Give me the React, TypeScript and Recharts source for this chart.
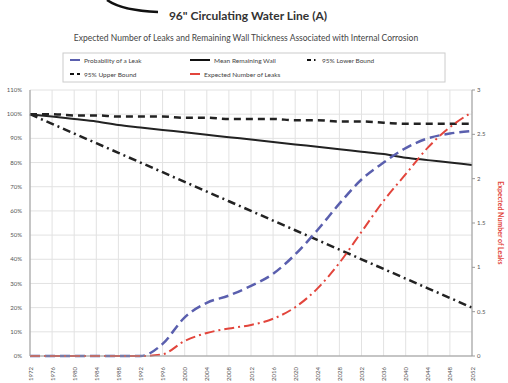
import { ComposedChart, Line, XAxis, YAxis, CartesianGrid } from 'recharts';

// years along the x axis (one label every 4 years)
const years = [1972, 1976, 1980, 1984, 1988, 1992, 1996, 2000, 2004, 2008, 2012, 2016, 2020, 2024, 2028, 2032, 2036, 2040, 2044, 2048, 2052];

// left axis, percent
const probLeak = [0, 0, 0, 0, 0, 0, 5, 16, 22, 25, 29, 34, 42, 52, 63, 73, 80, 86, 90, 92, 93];
const meanWall = [100, 99, 98, 97, 95.5, 94.5, 93.5, 92.5, 91.5, 90.5, 89.5, 88.5, 87.5, 86.5, 85.5, 84.5, 83.5, 82, 81, 80, 79];
const lowerBound = [100, 96, 92, 88, 84, 80, 76, 72, 68, 64, 60, 56, 52, 48, 44, 40, 36, 32, 28, 24, 20];
const upperBound = [100, 100, 99.5, 99.5, 99, 99, 99, 98.5, 98.5, 98, 98, 98, 97.5, 97.5, 97, 97, 96.5, 96, 96, 96, 96];

// right axis, count
const expectedLeaks = [0, 0, 0, 0, 0, 0, 0.02, 0.17, 0.26, 0.31, 0.35, 0.42, 0.55, 0.76, 1.05, 1.4, 1.75, 2.05, 2.35, 2.58, 2.75];

const leftTicks = [0, 10, 20, 30, 40, 50, 60, 70, 80, 90, 100, 110];
const rightTicks = [0, 0.5, 1, 1.5, 2, 2.5, 3];

const data = years.map((year, i) => ({
  year,
  probLeak: probLeak[i],
  meanWall: meanWall[i],
  lowerBound: lowerBound[i],
  upperBound: upperBound[i],
  expectedLeaks: expectedLeaks[i],
}));

const BLUE = '#5a5fae';
const RED = '#e2453c';
const FONT = 'Lato, "Open Sans", sans-serif';

const YearTick = (props: any) => {
  const { x, y, payload } = props;
  return (
    <text x={x} y={y + 3} transform={`rotate(-90 ${x} ${y + 3})`} textAnchor="end" dominantBaseline="central" fontSize={6} fill="#555" fontFamily={FONT}>
      {payload.value}
    </text>
  );
};

const LegendItem = ({ x, y, color, dash, width, label }: { x: number, y: number, color: string, dash?: string, width: number, label: string }) => (
  <g>
    <line x1={x} y1={y} x2={x + width} y2={y} stroke={color} strokeWidth={2} strokeDasharray={dash} />
    <text x={x + width + 4} y={y} dominantBaseline="central" fontSize={6.5} fill="#444" fontFamily={FONT}>{label}</text>
  </g>
);

export default function App() {
  return (
    <div style={{ position: 'absolute', left: 0, top: 0, width: 508, height: 383, background: '#fff' }}>
      <ComposedChart width={508} height={383} data={data} margin={{ top: 90, right: 0, bottom: 0, left: 0 }}>
        <CartesianGrid yAxisId="left" stroke="#e2e2e2" />
        <XAxis dataKey="year" type="number" domain={[1972, 2052]} ticks={years} height={27} tick={<YearTick />} tickLine={false} axisLine={{ stroke: '#999' }} interval={0} />
        <YAxis yAxisId="left" domain={[0, 110]} ticks={leftTicks} width={30} tickFormatter={(v: number) => `${v}%`} tick={{ fontSize: 6, fill: '#555', fontFamily: FONT }} tickLine={false} axisLine={{ stroke: '#999' }} />
        <YAxis yAxisId="right" orientation="right" domain={[0, 3]} ticks={rightTicks} width={36} tick={{ fontSize: 6, fill: '#555', fontFamily: FONT, textAnchor: 'start' }} tickLine={{ stroke: '#999' }} tickSize={3} axisLine={{ stroke: '#999' }} />
        <Line yAxisId="left" dataKey="upperBound" type="monotone" stroke="#222" strokeWidth={2.5} strokeDasharray="7 5" dot={false} isAnimationActive={false} />
        <Line yAxisId="left" dataKey="lowerBound" type="linear" stroke="#222" strokeWidth={2.5} strokeDasharray="8 4 2 4" dot={false} isAnimationActive={false} />
        <Line yAxisId="left" dataKey="meanWall" type="monotone" stroke="#222" strokeWidth={2} dot={false} isAnimationActive={false} />
        <Line yAxisId="left" dataKey="probLeak" type="monotone" stroke={BLUE} strokeWidth={2.5} strokeDasharray="10 5" dot={false} isAnimationActive={false} />
        <Line yAxisId="right" dataKey="expectedLeaks" type="monotone" stroke={RED} strokeWidth={2} strokeDasharray="10 4 2 4" dot={false} isAnimationActive={false} />
      </ComposedChart>
      <svg width={508} height={383} style={{ position: 'absolute', left: 0, top: 0, pointerEvents: 'none' }}>
        <path d="M107,0 C117,7 133,11 158,12" fill="none" stroke="#111" strokeWidth={2.5} />
        <text x={248} y={15} textAnchor="middle" dominantBaseline="central" fontSize={12} fontWeight="bold" fill="#333" fontFamily={FONT}>96" Circulating Water Line (A)</text>
        <text x={246} y={38} textAnchor="middle" dominantBaseline="central" fontSize={8.5} fill="#444" fontFamily={FONT}>Expected Number of Leaks and Remaining Wall Thickness Associated with Internal Corrosion</text>
        <rect x={63} y={53} width={382} height={29} fill="#fff" stroke="#ccc" strokeWidth={1} />
        <LegendItem x={70} y={60} color={BLUE} width={10} label="Probability of a Leak" />
        <LegendItem x={190} y={60} color="#111" width={20} label="Mean Remaining Wall" />
        <LegendItem x={307} y={60} color="#111" dash="4 3 1.5 3" width={11} label="95% Lower Bound" />
        <LegendItem x={70} y={74} color="#111" dash="4 3" width={10} label="95% Upper Bound" />
        <LegendItem x={190} y={74} color={RED} width={10} label="Expected Number of Leaks" />
        <text x={501} y={223} transform="rotate(90 501 223)" textAnchor="middle" dominantBaseline="central" fontSize={7} fontWeight="bold" fill={RED} fontFamily={FONT}>Expected Number of Leaks</text>
      </svg>
    </div>
  );
}
